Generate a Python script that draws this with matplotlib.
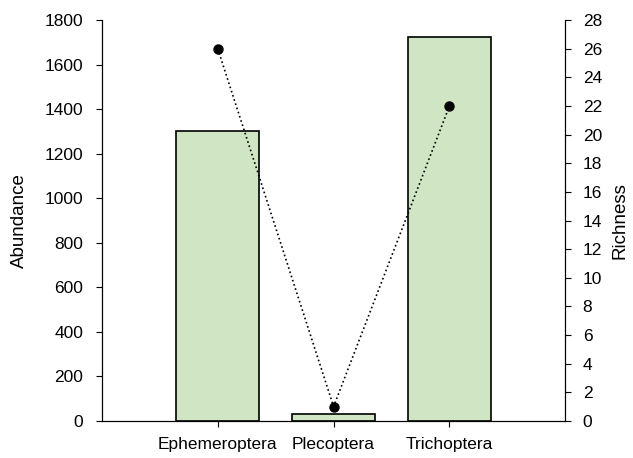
import matplotlib.pyplot as plt

plt.rcParams['font.family'] = ['Liberation Sans', 'DejaVu Sans']
plt.rcParams['font.size'] = 12.5

# data
orders = ['Ephemeroptera', 'Plecoptera', 'Trichoptera']
abundance = [1302, 31, 1724]
richness = [26, 1, 22]

fig, ax = plt.subplots(figsize=(6.33, 4.58), dpi=100)
fig.subplots_adjust(left=0.161, right=0.893, top=0.956, bottom=0.081)

x = list(range(len(orders)))
ax.bar(x, abundance, width=0.72, color='#cfe5c3', edgecolor='black', linewidth=1.2, zorder=2)
ax.set_xlim(-1, 3)
ax.set_ylim(0, 1800)
ax.set_yticks(range(0, 1801, 200))
ax.set_xticks(x)
ax.set_xticklabels(orders)
ax.set_ylabel('Abundance', fontsize=13.5)
ax.yaxis.set_label_coords(-0.160, 0.5)
ax.spines['top'].set_visible(False)
ax.tick_params(axis='y', direction='out', length=4.5, pad=9, colors='black')
ax.tick_params(axis='x', direction='out', length=4.5, pad=7, colors='black')

ax2 = ax.twinx()
ax2.plot(x, richness, color='black', linestyle=':', linewidth=1.2,
         marker='o', markersize=6.5, zorder=3)
ax2.set_ylim(0, 28)
ax2.set_yticks(range(0, 29, 2))
ax2.set_ylabel('Richness', fontsize=13.5)
ax2.yaxis.set_label_coords(1.100, 0.5)
ax2.spines['top'].set_visible(False)
ax2.tick_params(direction='out', length=4.5, pad=8)

plt.savefig('out.png', dpi=100)
